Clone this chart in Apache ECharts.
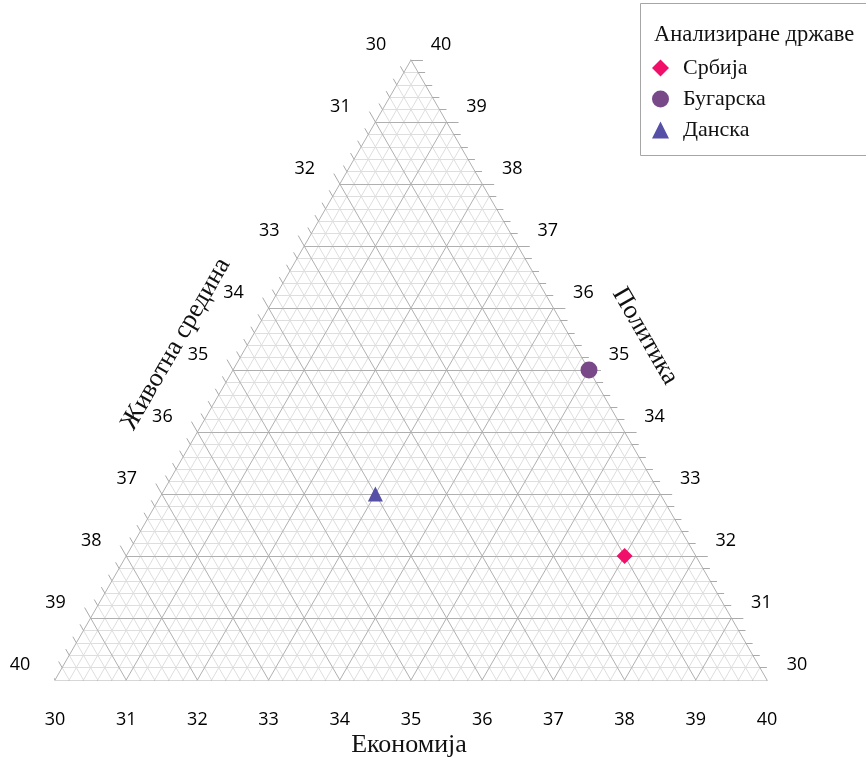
<!DOCTYPE html>
<html><head><meta charset="utf-8">
<script src="https://cdn.jsdelivr.net/npm/echarts@6/dist/echarts.min.js"></script>
<style>html,body{margin:0;padding:0;background:#fff}#c{width:866px;height:762px}</style>
</head><body><div id="c"></div>
<script>
// ---- data ----
const countries = ['Србија', 'Бугарска', 'Данска'];
const economy = [37, 35, 33];      // Економија
const environment = [31, 30, 34];  // Животна средина
const politics = [32, 35, 33];     // Политика
const tickValues = [30, 31, 32, 33, 34, 35, 36, 37, 38, 39, 40];
const minorPerMajor = 5;
const colors = ['#f0106a', '#784888', '#5650a6'];
const symbols = ['diamond', 'circle', 'triangle'];
const symbolSizes = [16, 17, 15];

// ternary -> cartesian (x,y in axis units)
const LO = 30, SUM = 100;
function pt(E, P) { return [(E - LO) + (P - LO) / 2, P - LO]; }
const HI = SUM - 2 * LO; // 40

const minorLines = [], majorLines = [], tickLines = [];
const bottomLabels = [], leftLabels = [], rightLabels = [];
const nMinor = (tickValues.length - 1) * minorPerMajor;
const majorLen = 12 / 71.4, minorLen = 7 / 71.4;
for (let k = 0; k <= nMinor; k++) {
  const v = LO + k / minorPerMajor;
  const isMajor = k % minorPerMajor === 0;
  if (k < nMinor) {
    const target = isMajor ? majorLines : minorLines;
    target.push({ coords: [pt(v, LO), pt(v, SUM - LO - v)] });
    target.push({ coords: [pt(LO, v), pt(SUM - LO - v, v)] });
    target.push({ coords: [pt(LO, SUM - LO - v), pt(SUM - LO - v, LO)] });
  }
  const s = isMajor ? majorLen : minorLen;
  const b = pt(v, LO);
  tickLines.push({ coords: [b, [b[0] - 0.5 * s, b[1] - s]] });
  const l = pt(LO, SUM - LO - v);
  tickLines.push({ coords: [l, [l[0] - 0.5 * s, l[1] + s]] });
  const r = pt(SUM - LO - v, v);
  tickLines.push({ coords: [r, [r[0] + s, r[1]]] });
}
tickValues.forEach(v => {
  bottomLabels.push({ value: pt(v, LO), name: String(v) });
  leftLabels.push({ value: pt(LO, SUM - LO - v), name: String(v) });
  rightLabels.push({ value: pt(SUM - LO - v, v), name: String(v) });
});

const tickFont = { fontFamily: 'Open Sans', fontSize: 18, color: '#000' };
function labelSeries(data, offset) {
  return {
    type: 'scatter', data: data, symbolSize: 1, silent: true,
    itemStyle: { color: 'transparent', opacity: 1 },
    label: Object.assign({ show: true, position: 'inside', offset: offset, formatter: p => p.name }, tickFont),
    z: 5
  };
}

const series = [
  { type: 'lines', coordinateSystem: 'cartesian2d', data: minorLines, silent: true,
    lineStyle: { color: '#dedede', width: 1, opacity: 1 }, z: 1 },
  { type: 'lines', coordinateSystem: 'cartesian2d', data: majorLines, silent: true,
    lineStyle: { color: '#b0b0b0', width: 1, opacity: 1 }, z: 2 },
  { type: 'lines', coordinateSystem: 'cartesian2d', data: tickLines, silent: true,
    lineStyle: { color: '#aaaaaa', width: 1, opacity: 1 }, z: 2 },
  labelSeries(bottomLabels, [0, 40]),
  labelSeries(leftLabels, [-35, -15]),
  labelSeries(rightLabels, [30, -15])
];
countries.forEach((c, i) => {
  series.push({
    type: 'scatter', name: c, symbol: symbols[i], symbolSize: symbolSizes[i],
    itemStyle: { color: colors[i], opacity: 1 }, z: 10,
    data: [pt(economy[i], politics[i])]
  });
});

const chart = echarts.init(document.getElementById('c'), null, { renderer: 'canvas' });
chart.setOption({
  animation: false,
  backgroundColor: '#fff',
  grid: { left: 55, top: 60, width: 712, height: 620, containLabel: false },
  xAxis: { type: 'value', min: 0, max: HI - LO, show: false },
  yAxis: { type: 'value', min: 0, max: HI - LO, show: false },
  legend: {
    data: countries, orient: 'vertical', left: 647, top: 52, itemGap: 9,
    itemWidth: 17, itemHeight: 17,
    textStyle: { fontFamily: 'Liberation Serif', fontSize: 22, color: '#111', padding: [0, 0, 0, 9] },
    z: 10
  },
  graphic: [
    { type: 'rect', shape: { x: 640.5, y: 3.5, width: 240, height: 152 },
      style: { fill: '#fff', stroke: '#a6a6a6', lineWidth: 1 }, z: 0 },
    { type: 'text', x: 654, y: 35, z: 1,
      style: { text: 'Анализиране државе', font: '22.5px "Liberation Serif"', fill: '#111', textVerticalAlign: 'middle' } },
    { type: 'text', x: 409, y: 745, z: 1,
      style: { text: 'Економија', font: '26px "Liberation Serif"', fill: '#111', textAlign: 'center', textVerticalAlign: 'middle' } },
    { type: 'text', x: 176, y: 344, rotation: Math.PI / 3, z: 1,
      style: { text: 'Животна средина', font: '26px "Liberation Serif"', fill: '#111', textAlign: 'center', textVerticalAlign: 'middle' } },
    { type: 'text', x: 645, y: 336, rotation: -Math.PI / 3, z: 1,
      style: { text: 'Политика', font: '26px "Liberation Serif"', fill: '#111', textAlign: 'center', textVerticalAlign: 'middle' } }
  ],
  series: series
});
</script>
</body></html>
